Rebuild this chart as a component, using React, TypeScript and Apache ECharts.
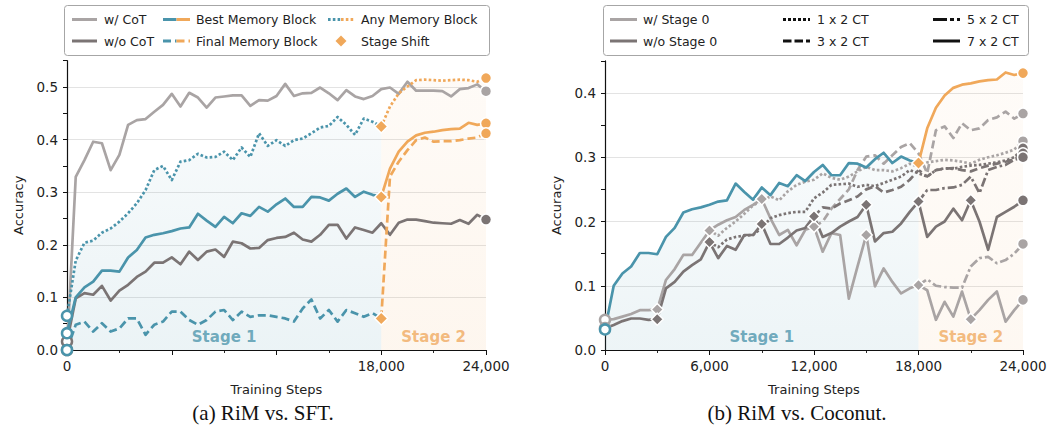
import React, { useEffect, useRef } from "react";
import * as echarts from "echarts";

// ---------- shared grid ----------
const STEP = 500;
const STAGE_SHIFT = 18000;
const END_STEP = 24000;

// ---------- (a) RiM vs. SFT ----------
// full runs, 0..24000 every 500 steps
const SFT_WITH_COT = [
  0.0, 0.329, 0.361, 0.396, 0.393, 0.342, 0.371, 0.428, 0.437, 0.439, 0.453, 0.466, 0.487,
  0.463, 0.489, 0.48, 0.461, 0.48, 0.482, 0.484, 0.484, 0.464, 0.475, 0.474, 0.483,
  0.506, 0.483, 0.488, 0.489, 0.499, 0.488, 0.475, 0.494, 0.482, 0.477, 0.483, 0.496,
  0.499, 0.487, 0.51, 0.493, 0.493, 0.493, 0.492, 0.482, 0.496, 0.498, 0.505, 0.492,
];
const SFT_WITHOUT_COT = [
  0.016, 0.098, 0.108, 0.105, 0.122, 0.094, 0.113, 0.124, 0.139, 0.149, 0.166, 0.166, 0.176,
  0.163, 0.187, 0.171, 0.187, 0.191, 0.177, 0.206, 0.203, 0.193, 0.194, 0.209, 0.213,
  0.215, 0.223, 0.21, 0.206, 0.219, 0.238, 0.238, 0.212, 0.233, 0.228, 0.223, 0.241,
  0.219, 0.242, 0.248, 0.248, 0.245, 0.242, 0.241, 0.24, 0.247, 0.24, 0.257, 0.248,
];
// RiM memory blocks: stage 1 = 0..18000, stage 2 = 18000..24000 (every 500 steps)
const BEST_STAGE1 = [
  0.032, 0.1, 0.119, 0.13, 0.151, 0.151, 0.149, 0.176, 0.19, 0.214, 0.219, 0.222, 0.226,
  0.231, 0.233, 0.259, 0.246, 0.234, 0.253, 0.241, 0.26, 0.255, 0.272, 0.263, 0.277,
  0.288, 0.272, 0.272, 0.291, 0.29, 0.284, 0.297, 0.307, 0.291, 0.301, 0.295, 0.291,
];
const BEST_STAGE2 = [0.291, 0.345, 0.377, 0.396, 0.408, 0.413, 0.415, 0.418, 0.42, 0.421, 0.432, 0.428, 0.431];
const FINAL_STAGE1 = [
  0.0, 0.048, 0.054, 0.035, 0.051, 0.035, 0.041, 0.06, 0.06, 0.029, 0.048, 0.054, 0.073,
  0.073, 0.057, 0.048, 0.057, 0.073, 0.076, 0.057, 0.073, 0.063, 0.066, 0.066, 0.063,
  0.06, 0.054, 0.079, 0.096, 0.06, 0.076, 0.054, 0.076, 0.07, 0.063, 0.07, 0.06,
];
const FINAL_STAGE2 = [0.06, 0.33, 0.358, 0.38, 0.399, 0.404, 0.396, 0.397, 0.397, 0.399, 0.402, 0.404, 0.412];
const ANY_STAGE1 = [
  0.065, 0.17, 0.204, 0.208, 0.223, 0.231, 0.244, 0.26, 0.279, 0.304, 0.342, 0.35, 0.323,
  0.358, 0.361, 0.373, 0.366, 0.367, 0.377, 0.361, 0.385, 0.367, 0.412, 0.388, 0.399,
  0.388, 0.399, 0.402, 0.412, 0.423, 0.426, 0.443, 0.428, 0.409, 0.44, 0.434, 0.425,
];
const ANY_STAGE2 = [0.425, 0.463, 0.488, 0.501, 0.513, 0.514, 0.513, 0.512, 0.513, 0.514, 0.513, 0.51, 0.517];

// ---------- (b) RiM vs. Coconut ----------
// RiM (b) is the best-memory-block run: BEST_STAGE1 / BEST_STAGE2
// Coconut 7 x 2 CT runs (full 0..24000)
const W_STAGE0_7X2 = [
  0.047, 0.048, 0.052, 0.056, 0.062, 0.062, 0.063,
  0.109, 0.126, 0.148, 0.148, 0.167, 0.186,
  0.195, 0.202, 0.207, 0.218, 0.226, 0.235,
  0.205, 0.179, 0.187, 0.163, 0.187, 0.192,
  0.153, 0.182, 0.179, 0.08, 0.13, 0.179,
  0.099, 0.127, 0.106, 0.088, 0.096, 0.101,
  0.093, 0.047, 0.075, 0.052, 0.091, 0.048,
  0.062, 0.078, 0.091, 0.044, 0.062, 0.078,
];
const WO_STAGE0_7X2 = [
  0.034, 0.039, 0.045, 0.049, 0.049, 0.047, 0.048,
  0.096, 0.106, 0.122, 0.132, 0.141, 0.168,
  0.143, 0.162, 0.156, 0.179, 0.179, 0.196,
  0.165, 0.165, 0.175, 0.186, 0.19, 0.208,
  0.176, 0.182, 0.192, 0.2, 0.207, 0.226,
  0.169, 0.182, 0.184, 0.197, 0.215, 0.231,
  0.176, 0.192, 0.2, 0.22, 0.202, 0.233,
  0.2, 0.156, 0.207, 0.215, 0.223, 0.233,
];
// shorter schedules split from the 7 x 2 run after their last stage
const W_STAGE0_1X2_FROM = 6000;
const W_STAGE0_1X2 = [
  0.186, 0.178, 0.19, 0.2, 0.212, 0.225, 0.232,
  0.239, 0.233, 0.247, 0.257, 0.262, 0.265,
  0.275, 0.268, 0.265, 0.27, 0.278, 0.285,
  0.28, 0.28, 0.278, 0.283, 0.29, 0.285,
  0.292, 0.294, 0.296, 0.295, 0.293, 0.29,
  0.296, 0.3, 0.303, 0.307, 0.312, 0.325,
];
const W_STAGE0_3X2_FROM = 12000;
const W_STAGE0_3X2 = [
  0.192, 0.2, 0.22, 0.235, 0.25, 0.28, 0.301,
  0.303, 0.29, 0.303, 0.316, 0.322, 0.306,
  0.275, 0.342, 0.348, 0.33, 0.353, 0.342,
  0.345, 0.358, 0.362, 0.371, 0.36, 0.368,
];
const W_STAGE0_5X2_FROM = 18000;
const W_STAGE0_5X2 = [0.101, 0.11, 0.1, 0.098, 0.097, 0.097, 0.13, 0.143, 0.145, 0.135, 0.14, 0.15, 0.165];
const WO_STAGE0_1X2_FROM = 6000;
const WO_STAGE0_1X2 = [
  0.168, 0.16, 0.172, 0.176, 0.178, 0.179, 0.19,
  0.205, 0.21, 0.213, 0.215, 0.215, 0.236,
  0.245, 0.257, 0.258, 0.259, 0.254, 0.257,
  0.255, 0.26, 0.265, 0.27, 0.28, 0.275,
  0.27, 0.28, 0.283, 0.282, 0.285, 0.287,
  0.288, 0.29, 0.292, 0.295, 0.3, 0.314,
];
const WO_STAGE0_3X2_FROM = 12000;
const WO_STAGE0_3X2 = [
  0.208, 0.222, 0.22, 0.228, 0.233, 0.239, 0.25,
  0.255, 0.245, 0.249, 0.254, 0.265, 0.28,
  0.27, 0.28, 0.282, 0.283, 0.28, 0.278,
  0.283, 0.287, 0.29, 0.293, 0.297, 0.306,
];
const WO_STAGE0_5X2_FROM = 18000;
const WO_STAGE0_5X2 = [0.231, 0.249, 0.249, 0.252, 0.253, 0.257, 0.27, 0.244, 0.28, 0.285, 0.288, 0.296, 0.3];
const COCONUT_STAGE_SHIFTS = [3000, 6000, 9000, 12000, 15000, 18000, 21000];

// ---------- ticks ----------
const LEFT_X_TICK_LABELS = [0, 18000, 24000];
const RIGHT_X_TICK_LABELS = [0, 6000, 12000, 18000, 24000];
const LEFT_Y_MAX = 0.55;
const RIGHT_Y_MAX = 0.45;

// ---------- styles ----------
const BLUE = "#4a94ab";
const ORANGE = "#f0a85a";
const LIGHT = "#a9a4a4";
const DARK = "#7b7474";
const FONT = "DejaVu Sans";
const DOTTED = [2.6, 2.2];
const DASHED = [8, 4];
const DASHDOT = [9, 3, 2.6, 3];

const pairs = (vals: number[], start = 0) => vals.map((v, i) => [start + i * STEP, v]);
const lastOf = (a: number[]) => a[a.length - 1];
const atStep = (a: number[], step: number, start = 0) => a[(step - start) / STEP];
const fmtSteps = (v: number) => String(v).replace(/\B(?=(\d{3})+(?!\d))/g, ",");
const fmtAcc = (v: number) => {
  const r = Math.round(v * 10);
  return Math.abs(v * 10 - r) < 1e-6 ? (r / 10).toFixed(1) : "";
};

function line(data: any[], color: string, idx: number, dash: any = "solid", z = 3) {
  return {
    type: "line",
    data,
    xAxisIndex: idx,
    yAxisIndex: idx * 2,
    symbol: "none",
    silent: true,
    z,
    lineStyle: { color, width: 2.7, type: dash, cap: "butt", join: "round" },
    itemStyle: { color },
  };
}
function area(data: any[], rgb: string, idx: number, a0: number, a1: number) {
  return {
    type: "line",
    data,
    xAxisIndex: idx,
    yAxisIndex: idx * 2,
    symbol: "none",
    silent: true,
    z: 1,
    lineStyle: { width: 0, opacity: 0 },
    areaStyle: {
      color: new echarts.graphic.LinearGradient(0, 0, 0, 1, [
        { offset: 0, color: `rgba(${rgb},${a0})` },
        { offset: 1, color: `rgba(${rgb},${a1})` },
      ]),
      opacity: 1,
    },
  };
}
function dots(data: any[], idx: number, symbol: string, size: number, z = 10, border = "#fff", bw = 1.5) {
  return {
    type: "scatter",
    xAxisIndex: idx,
    yAxisIndex: idx * 2,
    symbol,
    symbolSize: size,
    silent: true,
    z,
    itemStyle: { borderColor: border, borderWidth: bw, opacity: 1 },
    data,
  };
}
function hollow(data: any[], idx: number, color: string, z = 12) {
  return {
    type: "scatter",
    xAxisIndex: idx,
    yAxisIndex: idx * 2,
    symbol: "circle",
    symbolSize: 10,
    silent: true,
    z,
    itemStyle: { color: "#fff", borderColor: color, borderWidth: 2.5, opacity: 1 },
    data,
  };
}
function stageLabels(idx: number, y: number) {
  return {
    type: "scatter",
    xAxisIndex: idx,
    yAxisIndex: idx * 2,
    symbolSize: 1,
    silent: true,
    z: 20,
    itemStyle: { color: "rgba(0,0,0,0)" },
    data: [
      { value: [STAGE_SHIFT / 2, y], label: { formatter: "Stage 1", color: "#4e96ad" } },
      { value: [(STAGE_SHIFT + END_STEP) / 2, y], label: { formatter: "Stage 2", color: "#f0aa60" } },
    ],
    label: { show: true, position: "inside", fontSize: 15, fontWeight: "bold", fontFamily: FONT },
  };
}

function xAxis(grid: number, labels: number[]) {
  return {
    type: "value",
    gridIndex: grid,
    min: 0,
    max: END_STEP,
    interval: 6000,
    name: "Training Steps",
    nameLocation: "middle",
    nameGap: 33,
    nameTextStyle: { fontSize: 13, color: "#222", fontFamily: FONT },
    axisLine: { show: true, lineStyle: { color: "#111", width: 1.2 } },
    axisTick: { show: true, length: 5, lineStyle: { color: "#111", width: 1 } },
    minorTick: { show: true, splitNumber: 2, length: 3, lineStyle: { color: "#111", width: 0.9 } },
    axisLabel: {
      margin: 9,
      fontSize: 13.5,
      color: "#222",
      fontFamily: FONT,
      formatter: (v: number) => (labels.includes(v) ? fmtSteps(v) : ""),
    },
    splitLine: { show: false },
  };
}
function yAxes(grid: number, max: number) {
  return [
    {
      type: "value",
      gridIndex: grid,
      min: 0,
      max,
      interval: 0.05,
      name: "Accuracy",
      nameLocation: "middle",
      nameGap: 42,
      nameTextStyle: { fontSize: 13, color: "#222", fontFamily: FONT },
      axisLine: { show: true, lineStyle: { color: "#111", width: 1.2 } },
      axisTick: { show: true, length: 4, lineStyle: { color: "#111", width: 1 } },
      axisLabel: { margin: 9, fontSize: 13.5, color: "#222", fontFamily: FONT, formatter: fmtAcc },
      splitLine: { show: false },
    },
    {
      type: "value",
      gridIndex: grid,
      min: 0,
      max,
      interval: 0.1,
      axisLine: { show: false },
      axisTick: { show: false },
      axisLabel: { show: false },
      splitLine: { show: true, showMinLine: false, showMaxLine: false, lineStyle: { color: "#e3e3e3", width: 1 } },
    },
  ];
}

// ---------- legends (drawn as graphic) ----------
function legendLine(x1: number, x2: number, y: number, color: string, dash?: number[]) {
  return { type: "line", z: 100, shape: { x1, y1: y, x2, y2: y }, style: { stroke: color, lineWidth: 3, lineDash: dash } };
}
function legendSplit(x1: number, x2: number, y: number, dash?: number[]) {
  const m = (x1 + x2) / 2;
  return [legendLine(x1, m, y, BLUE, dash), legendLine(m, x2, y, ORANGE, dash)];
}
function legendText(x: number, y: number, text: string) {
  return {
    type: "text",
    z: 100,
    x,
    y,
    style: { text, fill: "#222", fontSize: 12.5, fontFamily: FONT, verticalAlign: "middle", align: "left" },
  };
}
function legendBox(x: number, y: number, w: number, h: number) {
  return { type: "rect", z: 99, shape: { x, y, width: w, height: h, r: 3 }, style: { fill: "#fff", stroke: "#a6a6a6", lineWidth: 1 } };
}

export default function App() {
  const ref = useRef<HTMLDivElement>(null);
  useEffect(() => {
    if (!ref.current) return;
    const chart = echarts.init(ref.current, undefined, { renderer: "svg" });

    const R1 = 19.5;
    const R2 = 41;
    const graphic: any[] = [
      legendBox(64.5, 5.5, 425, 50),
      legendLine(72, 97, R1, LIGHT),
      legendText(104, R1, "w/ CoT"),
      legendLine(72, 97, R2, DARK),
      legendText(104, R2, "w/o CoT"),
      ...legendSplit(163, 190, R1),
      legendText(196, R1, "Best Memory Block"),
      ...legendSplit(163, 190, R2, DASHED),
      legendText(196, R2, "Final Memory Block"),
      ...legendSplit(328, 354, R1, DOTTED),
      legendText(361, R1, "Any Memory Block"),
      {
        type: "polygon",
        z: 100,
        shape: { points: [[341, R2 - 5.5], [346.5, R2], [341, R2 + 5.5], [335.5, R2]] },
        style: { fill: ORANGE },
      },
      legendText(361, R2, "Stage Shift"),

      legendBox(603.5, 5.5, 425, 50),
      legendLine(610, 637, R1, LIGHT),
      legendText(643, R1, "w/ Stage 0"),
      legendLine(610, 637, R2, DARK),
      legendText(643, R2, "w/o Stage 0"),
      legendLine(783, 810, R1, "#111", [3, 2]),
      legendText(817, R1, "1 x 2 CT"),
      legendLine(783, 810, R2, "#111", [8.5, 3]),
      legendText(817, R2, "3 x 2 CT"),
      legendLine(933, 960, R1, "#111", [14, 3, 4, 3]),
      legendText(967, R1, "5 x 2 CT"),
      legendLine(933, 960, R2, "#111"),
      legendText(967, R2, "7 x 2 CT"),

      {
        type: "text",
        x: 263,
        y: 413,
        style: { text: "(a) RiM vs. SFT.", fill: "#111", fontSize: 21, fontFamily: "Liberation Serif", align: "center", verticalAlign: "middle" },
      },
      {
        type: "text",
        x: 797,
        y: 413,
        style: { text: "(b) RiM vs. Coconut.", fill: "#111", fontSize: 21, fontFamily: "Liberation Serif", align: "center", verticalAlign: "middle" },
      },
    ];

    const leftSeries = [
      area(pairs(ANY_STAGE1), "74,148,171", 0, 0.04, 0.11),
      area(pairs(ANY_STAGE2, STAGE_SHIFT), "240,168,90", 0, 0.05, 0.1),
      line(pairs(SFT_WITH_COT), LIGHT, 0),
      line(pairs(SFT_WITHOUT_COT), DARK, 0),
      line(pairs(FINAL_STAGE1), BLUE, 0, DASHED, 4),
      line(pairs(ANY_STAGE1), BLUE, 0, DOTTED, 4),
      line(pairs(BEST_STAGE1), BLUE, 0, "solid", 4),
      line(pairs(FINAL_STAGE2, STAGE_SHIFT), ORANGE, 0, DASHED, 4),
      line(pairs(ANY_STAGE2, STAGE_SHIFT), ORANGE, 0, DOTTED, 4),
      line(pairs(BEST_STAGE2, STAGE_SHIFT), ORANGE, 0, "solid", 4),
      dots(
        [BEST_STAGE2[0], FINAL_STAGE2[0], ANY_STAGE2[0]].map((v) => ({ value: [STAGE_SHIFT, v], itemStyle: { color: ORANGE } })),
        0, "diamond", 13
      ),
      dots(
        [
          { value: [END_STEP, lastOf(SFT_WITH_COT)], itemStyle: { color: LIGHT } },
          { value: [END_STEP, lastOf(SFT_WITHOUT_COT)], itemStyle: { color: DARK } },
          { value: [END_STEP, lastOf(BEST_STAGE2)], itemStyle: { color: ORANGE } },
          { value: [END_STEP, lastOf(FINAL_STAGE2)], itemStyle: { color: ORANGE } },
          { value: [END_STEP, lastOf(ANY_STAGE2)], itemStyle: { color: ORANGE } },
        ],
        0, "circle", 11
      ),
      hollow([[0, SFT_WITHOUT_COT[0]], [0, SFT_WITH_COT[0]]], 0, DARK, 11),
      hollow([[0, BEST_STAGE1[0]], [0, FINAL_STAGE1[0]], [0, ANY_STAGE1[0]]], 0, BLUE, 12),
      stageLabels(0, 0.0245),
    ];

    const grayRuns: [number[], number, string, any][] = [
      [W_STAGE0_1X2, W_STAGE0_1X2_FROM, LIGHT, DOTTED],
      [W_STAGE0_3X2, W_STAGE0_3X2_FROM, LIGHT, DASHED],
      [W_STAGE0_5X2, W_STAGE0_5X2_FROM, LIGHT, DASHDOT],
      [W_STAGE0_7X2, 0, LIGHT, "solid"],
      [WO_STAGE0_1X2, WO_STAGE0_1X2_FROM, DARK, DOTTED],
      [WO_STAGE0_3X2, WO_STAGE0_3X2_FROM, DARK, DASHED],
      [WO_STAGE0_5X2, WO_STAGE0_5X2_FROM, DARK, DASHDOT],
      [WO_STAGE0_7X2, 0, DARK, "solid"],
    ];

    const rightSeries = [
      area(pairs(BEST_STAGE1), "74,148,171", 1, 0.04, 0.1),
      area(pairs(BEST_STAGE2, STAGE_SHIFT), "240,168,90", 1, 0.04, 0.08),
      ...grayRuns.map(([vals, from, color, dash]) => line(pairs(vals, from), color, 1, dash, 3)),
      line(pairs(BEST_STAGE1), BLUE, 1, "solid", 5),
      line(pairs(BEST_STAGE2, STAGE_SHIFT), ORANGE, 1, "solid", 5),
      dots(
        [
          ...COCONUT_STAGE_SHIFTS.map((s) => ({ value: [s, atStep(W_STAGE0_7X2, s)], itemStyle: { color: LIGHT } })),
          ...COCONUT_STAGE_SHIFTS.map((s) => ({ value: [s, atStep(WO_STAGE0_7X2, s)], itemStyle: { color: DARK } })),
        ],
        1, "diamond", 12
      ),
      dots([{ value: [STAGE_SHIFT, BEST_STAGE2[0]], itemStyle: { color: ORANGE } }], 1, "diamond", 13, 11),
      dots(
        [
          ...grayRuns.map(([vals, , color]) => ({ value: [END_STEP, lastOf(vals)], itemStyle: { color } })),
          { value: [END_STEP, lastOf(BEST_STAGE2)], itemStyle: { color: ORANGE } },
        ],
        1, "circle", 11
      ),
      hollow([[0, W_STAGE0_7X2[0]], [0, WO_STAGE0_7X2[0]]], 1, LIGHT, 11),
      hollow([[0, BEST_STAGE1[0]]], 1, BLUE, 12),
      stageLabels(1, 0.0205),
    ];

    chart.setOption({
      animation: false,
      backgroundColor: "#fff",
      textStyle: { fontFamily: FONT },
      grid: [
        { left: 67, top: 350 - LEFT_Y_MAX * 526, width: 419, height: LEFT_Y_MAX * 526, containLabel: false, outerBoundsMode: "none" },
        { left: 605, top: 350 - RIGHT_Y_MAX * 642.5, width: 418, height: RIGHT_Y_MAX * 642.5, containLabel: false, outerBoundsMode: "none" },
      ],
      xAxis: [xAxis(0, LEFT_X_TICK_LABELS), xAxis(1, RIGHT_X_TICK_LABELS)],
      yAxis: [...yAxes(0, LEFT_Y_MAX), ...yAxes(1, RIGHT_Y_MAX)],
      series: [...leftSeries, ...rightSeries],
      graphic,
    });
    return () => chart.dispose();
  }, []);
  return (
    <div
      ref={ref}
      style={{ position: "fixed", left: 0, top: 0, width: 1053, height: 444, background: "#fff" }}
    />
  );
}
